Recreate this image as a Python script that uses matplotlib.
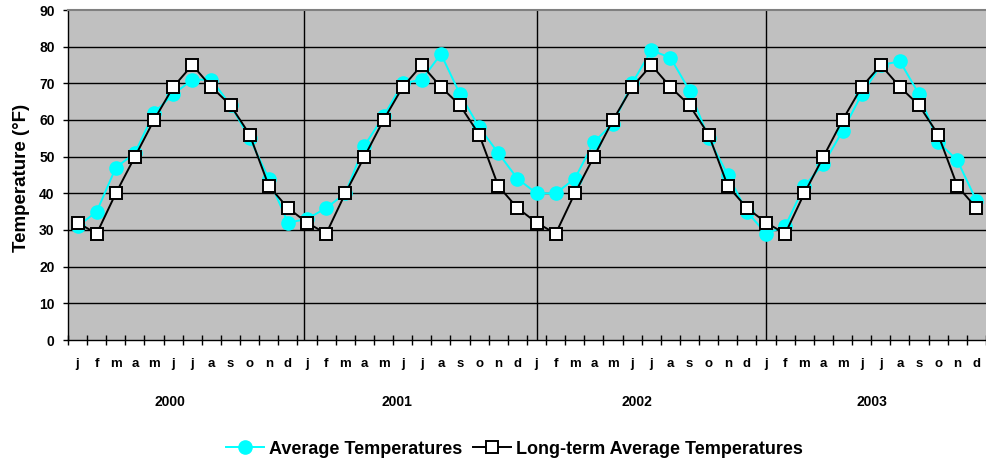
import numpy as np
import matplotlib
matplotlib.use("Agg")
import matplotlib.pyplot as plt
import matplotlib.transforms as mtransforms

plt.rcParams['font.family'] = ['Liberation Sans', 'DejaVu Sans']
plt.rcParams['font.weight'] = 'bold'

months = ['j', 'f', 'm', 'a', 'm', 'j', 'j', 'a', 's', 'o', 'n', 'd']
years = ['2000', '2001', '2002', '2003']

avg_2000 = [31, 35, 47, 51, 62, 67, 71, 71, 64, 55, 44, 32]
avg_2001 = [33, 36, 40, 53, 61, 70, 71, 78, 67, 58, 51, 44]
avg_2002 = [40, 40, 44, 54, 59, 70, 79, 77, 68, 55, 45, 35]
avg_2003 = [29, 31, 42, 48, 57, 67, 75, 76, 67, 54, 49, 38]
longterm_month = [32, 29, 40, 50, 60, 69, 75, 69, 64, 56, 42, 36]

avg_temps = avg_2000 + avg_2001 + avg_2002 + avg_2003
longterm_temps = longterm_month * len(years)
month_labels = months * len(years)
y_ticks = list(range(0, 100, 10))

# layout positions (in category units)
separator_pos = [12.32, 24.5, 36.5]
year_label_pos = [5.33, 17.2, 29.77, 42.05]

W, H = 987, 466
fig = plt.figure(figsize=(W / 100, H / 100), dpi=100)
fig.patch.set_facecolor('white')
ax = fig.add_axes([68 / W, 1 - 340 / H, (986 - 68) / W, 330 / H])
ax.set_facecolor('#C0C0C0')

n = len(avg_temps)
x = np.arange(n) + 0.5

ax.set_xlim(0, n)
ax.set_ylim(0, 90)

for yv in y_ticks[1:-1]:
    ax.axhline(yv, color='black', lw=1.0, zorder=1)
for sx in separator_pos:
    ax.axvline(sx, color='black', lw=1.0, zorder=1)

l1, = ax.plot(x, avg_temps, color='#00FFFF', lw=1.4, marker='o', markersize=9.5,
              markerfacecolor='#00FFFF', markeredgecolor='#00FFFF', zorder=3,
              label='Average Temperatures')
l2, = ax.plot(x, longterm_temps, color='black', lw=1.4, marker='s', markersize=8,
              markerfacecolor='white', markeredgecolor='black', markeredgewidth=1.4,
              zorder=4, label='Long-term Average Temperatures')

ax.spines['right'].set_visible(False)
ax.spines['top'].set_color('#808080')
ax.spines['top'].set_linewidth(1.5)
ax.spines['left'].set_color('black')
ax.spines['bottom'].set_color('black')
ax.spines['left'].set_linewidth(1.0)
ax.spines['bottom'].set_linewidth(1.0)

ax.set_yticks(y_ticks)
ax.set_yticklabels([str(v) for v in y_ticks], fontsize=10, fontweight='bold')
ax.tick_params(axis='y', direction='out', length=3.8, width=1, pad=5.8, color='black')

ax.set_xticks(np.arange(0, n + 1))
ax.set_xticklabels([])
ax.tick_params(axis='x', which='major', direction='inout', length=6.5, width=1, color='black')
ax.set_xticks(x, minor=True)
ax.set_xticklabels(month_labels, minor=True, fontsize=9.5, fontweight='bold')
ax.tick_params(axis='x', which='minor', length=0, pad=13)

trans = mtransforms.blended_transform_factory(ax.transData, fig.transFigure)
for yr, xp in zip(years, year_label_pos):
    ax.text(xp, 1 - 402 / H, yr, transform=trans, ha='center', va='center',
            fontsize=10, fontweight='bold')

fig.text(22 / W, 1 - 177.5 / H, 'Temperature (°F)', rotation=90, ha='center',
         va='center', fontsize=13.5, fontweight='bold')

fig.legend(handles=[l1, l2], loc='center', bbox_to_anchor=(514.5 / W, 1 - 449 / H),
           ncol=2, frameon=False, prop={'size': 13, 'weight': 'bold'},
           handlelength=2.1, handletextpad=0.3, columnspacing=0.6)

fig.savefig('out.png', dpi=100)
